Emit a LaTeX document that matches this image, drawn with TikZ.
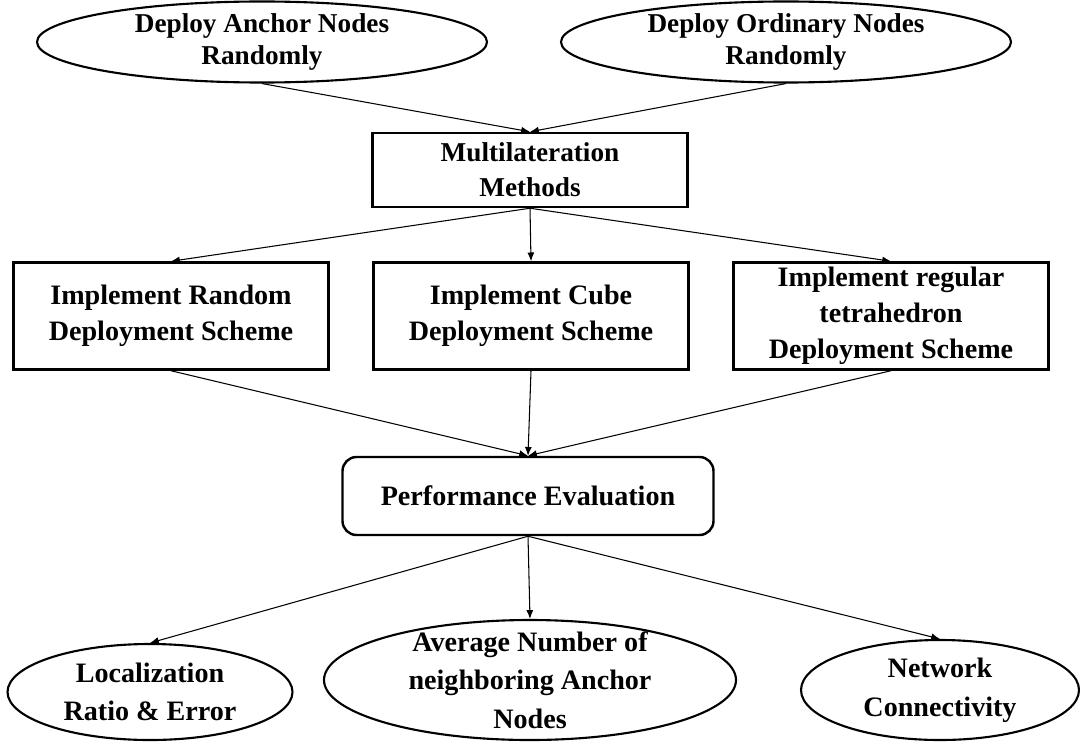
\documentclass[tikz,border=0pt]{standalone}
\usepackage{fontspec}
\setmainfont{Liberation Serif}
\usetikzlibrary{shapes.geometric,arrows.meta}
\begin{document}
\begin{tikzpicture}[
		oval/.style={ellipse, draw, line width=1.2pt, inner sep=0pt, align=center},
		stage/.style={rectangle, draw, line width=1.4pt, inner sep=0pt, align=center},
		flow/.style={-{Latex[length=5pt,width=4pt]}, line width=0.6pt},
		font=\bfseries\fontsize{15.5}{18.5}\selectfont
	]
		\useasboundingbox (0,0) rectangle (21.6,-14.84);

		\node[oval, minimum width=9cm, minimum height=1.6cm] (anchor) at (5.24,-0.84) {Deploy Anchor Nodes\\Randomly};
		\node[oval, minimum width=9cm, minimum height=1.6cm] (ordinary) at (15.72,-0.84) {Deploy Ordinary Nodes\\Randomly};

		\node[stage, minimum width=6.3cm, minimum height=1.48cm, font=\bfseries\fontsize{15.5}{20}\selectfont] (multi) at (10.6,-3.4) {Multilateration\\Methods};

		\begin{scope}[every node/.style={stage, minimum width=6.3cm, minimum height=2.14cm, font=\bfseries\fontsize{16}{20.5}\selectfont}]
			\node (rnd) at (3.42,-6.32) {Implement Random\\Deployment Scheme};
			\node (cube) at (10.62,-6.32) {Implement Cube\\Deployment Scheme};
			\node (tetra) at (17.82,-6.32) {Implement regular\\tetrahedron\\Deployment Scheme};
		\end{scope}

		\node[stage, rounded corners=8pt, minimum width=7.42cm, minimum height=1.56cm, font=\bfseries\fontsize{16}{20}\selectfont] (perf) at (10.56,-9.92) {Performance Evaluation};

		\begin{scope}[every node/.style={oval, inner ysep=-10pt, font=\bfseries\fontsize{16}{22}\selectfont}]
			\node[minimum width=5.7cm, minimum height=1.92cm] (loc) at (3.0,-13.84) {Localization\\Ratio \& Error};
			\node[minimum width=8.24cm, minimum height=2.4cm] (avg) at (10.6,-13.6) {Average Number of\\neighboring Anchor\\Nodes};
			\node[minimum width=5.56cm, minimum height=2.0cm] (net) at (18.8,-13.8) {Network\\Connectivity};
		\end{scope}

		\foreach \a in {anchor,ordinary}
			\draw[flow] (\a.south) -- (multi.north);
		\foreach \b in {rnd,cube,tetra} {
			\draw[flow] (multi.south) -- (\b.north);
			\draw[flow] (\b.south) -- (perf.north);
		}
		\foreach \c in {loc,avg,net}
			\draw[flow] (perf.south) -- (\c.north);
	\end{tikzpicture}
\end{document}
